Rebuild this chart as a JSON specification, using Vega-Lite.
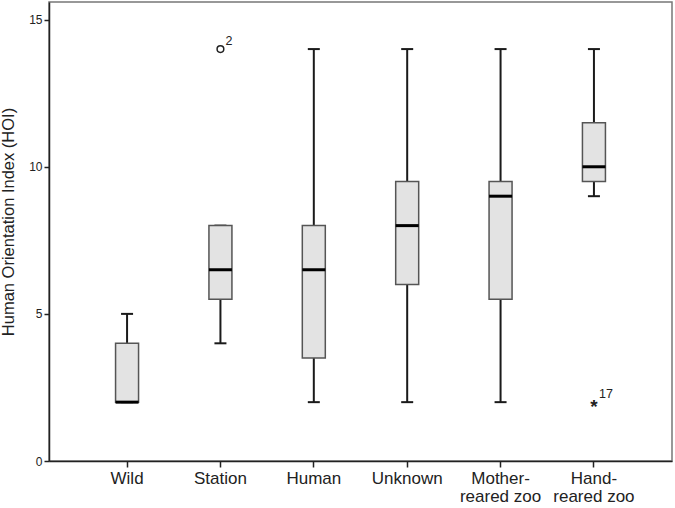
{
  "$schema": "https://vega.github.io/schema/vega-lite/v6.json",
  "width": 623,
  "height": 459,
  "autosize": {"type": "none"},
  "padding": {"left": 49, "top": 2, "right": 3, "bottom": 47},
  "background": "white",
  "config": {
    "font": "Liberation Sans",
    "view": {"stroke": "#777777", "strokeWidth": 1.5},
    "tick": {"opacity": 1},
    "axis": {
      "domainColor": "#222222",
      "domainWidth": 1.5,
      "tickColor": "#222222",
      "tickWidth": 1.5,
      "labelColor": "#222222",
      "titleColor": "#222222",
      "grid": false
    }
  },
  "datasets": {
    "boxes": [
      {"group": "Wild", "lower": 2, "q1": 2, "median": 2, "q3": 4, "upper": 5},
      {"group": "Station", "lower": 4, "q1": 5.5, "median": 6.5, "q3": 8, "upper": 8},
      {"group": "Human", "lower": 2, "q1": 3.5, "median": 6.5, "q3": 8, "upper": 14},
      {"group": "Unknown", "lower": 2, "q1": 6, "median": 8, "q3": 9.5, "upper": 14},
      {"group": "Mother-reared zoo", "lower": 2, "q1": 5.5, "median": 9, "q3": 9.5, "upper": 14},
      {"group": "Hand-reared zoo", "lower": 9, "q1": 9.5, "median": 10, "q3": 11.5, "upper": 14}
    ],
    "outliers": [
      {"group": "Station", "value": 14, "case": "2", "kind": "outlier", "symbol": "o"},
      {"group": "Hand-reared zoo", "value": 2, "case": "17", "kind": "extreme", "symbol": "*"}
    ]
  },
  "encoding": {
    "x": {
      "field": "group",
      "type": "nominal",
      "sort": null,
      "scale": {
        "type": "band",
        "domain": ["Wild", "Station", "Human", "Unknown", "Mother-reared zoo", "Hand-reared zoo"],
        "paddingInner": 0.2,
        "paddingOuter": 0.436
      },
      "axis": {
        "title": null,
        "labelAngle": 0,
        "labelFontSize": 17,
        "labelPadding": 3,
        "tickSize": 6,
        "labelLineHeight": 18,
        "labelExpr": "datum.value == 'Mother-reared zoo' ? ['Mother-', 'reared zoo'] : datum.value == 'Hand-reared zoo' ? ['Hand-', 'reared zoo'] : datum.value"
      }
    }
  },
  "layer": [
    {
      "data": {"name": "boxes"},
      "mark": {"type": "rule", "strokeWidth": 2, "color": "#1a1a1a"},
      "encoding": {
        "y": {
          "field": "lower",
          "type": "quantitative",
          "scale": {"domain": [0, 15.6], "nice": false, "zero": false},
          "axis": {
            "title": "Human Orientation Index (HOI)",
            "titleFontSize": 16.5,
            "titleFontWeight": "normal",
            "titleX": -33,
            "titleY": 219.5,
            "titleAngle": -90,
            "titleBaseline": "bottom",
            "titleAlign": "center",
            "values": [0, 5, 10, 15],
            "labelFontSize": 12,
            "labelPadding": 2,
            "tickSize": 5
          }
        },
        "y2": {"field": "upper"}
      }
    },
    {
      "data": {"name": "boxes"},
      "mark": {"type": "tick", "size": 12, "thickness": 2, "color": "#1a1a1a"},
      "encoding": {
        "y": {"field": "lower", "type": "quantitative", "title": "Human Orientation Index (HOI)", "scale": {"domain": [0, 15.6], "nice": false}}
      }
    },
    {
      "data": {"name": "boxes"},
      "mark": {"type": "tick", "size": 12, "thickness": 2, "color": "#1a1a1a"},
      "encoding": {
        "y": {"field": "upper", "type": "quantitative", "title": "Human Orientation Index (HOI)", "scale": {"domain": [0, 15.6], "nice": false}}
      }
    },
    {
      "data": {"name": "boxes"},
      "mark": {"type": "bar", "size": 23, "fill": "#e3e3e3", "stroke": "#555555", "strokeWidth": 1.5},
      "encoding": {
        "y": {"field": "q1", "type": "quantitative", "title": "Human Orientation Index (HOI)", "scale": {"domain": [0, 15.6], "nice": false}},
        "y2": {"field": "q3"}
      }
    },
    {
      "data": {"name": "boxes"},
      "mark": {"type": "tick", "size": 23, "thickness": 3, "color": "#000000"},
      "encoding": {
        "y": {"field": "median", "type": "quantitative", "title": "Human Orientation Index (HOI)", "scale": {"domain": [0, 15.6], "nice": false}}
      }
    },
    {
      "data": {"name": "outliers"},
      "transform": [{"filter": "datum.kind == 'outlier'"}],
      "mark": {"type": "point", "shape": "circle", "filled": false, "size": 45, "strokeWidth": 1.5, "color": "#222222", "opacity": 1},
      "encoding": {
        "y": {"field": "value", "type": "quantitative", "title": "Human Orientation Index (HOI)", "scale": {"domain": [0, 15.6], "nice": false}}
      }
    },
    {
      "data": {"name": "outliers"},
      "transform": [{"filter": "datum.kind == 'extreme'"}],
      "mark": {"type": "text", "fontSize": 19, "fontWeight": "bold", "baseline": "middle", "dy": 5, "color": "#222222"},
      "encoding": {
        "y": {"field": "value", "type": "quantitative", "title": "Human Orientation Index (HOI)", "scale": {"domain": [0, 15.6], "nice": false}},
        "text": {"field": "symbol"}
      }
    },
    {
      "data": {"name": "outliers"},
      "mark": {"type": "text", "fontSize": 12.5, "align": "left", "dx": 5, "dy": -8, "color": "#222222"},
      "encoding": {
        "y": {"field": "value", "type": "quantitative", "title": "Human Orientation Index (HOI)", "scale": {"domain": [0, 15.6], "nice": false}},
        "text": {"field": "case"}
      }
    }
  ]
}
